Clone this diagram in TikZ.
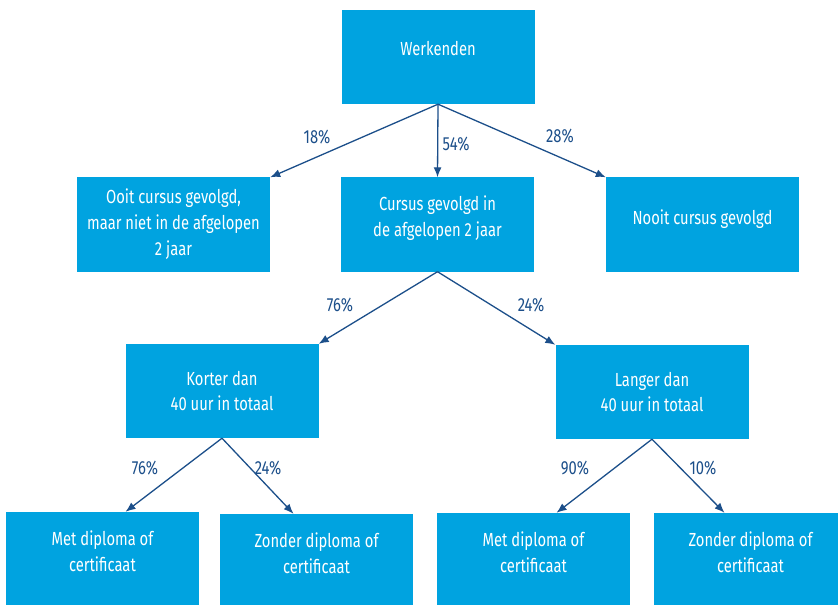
\documentclass[tikz,border=0pt]{standalone}
\usepackage{fontspec}
\setmainfont[FakeStretch=0.78]{Fira Sans}
\usetikzlibrary{positioning,calc,arrows.meta}
\definecolor{boxcolor}{HTML}{00A3E0}
\definecolor{arrowcolor}{HTML}{1C4F8A}

\begin{document}
\begin{tikzpicture}[
  x=1bp, y=-1bp,
  font=\fontsize{19}{26}\selectfont,
  >={Latex[length=10bp,width=8bp]},
  boxnode/.style={
    fill=boxcolor, text=white,
    minimum width=193bp, minimum height=94bp,
    align=center, inner sep=0pt,
  },
  lift/.style={text depth=#1},
  pctarrow/.style={->, line width=1.3bp, draw=arrowcolor},
  pctlabel/.style={text=arrowcolor, inner sep=0pt},
]
\useasboundingbox (0,0) rectangle (838,605);

% --- level 0 --------------------------------------------------------
\node[boxnode, lift=18bp] (W) at (438,57) {Werkenden};

% --- level 1 --------------------------------------------------------
\node[boxnode] (O) at (173.5,224.5) {Ooit cursus gevolgd,\\maar niet in de afgelopen\\2 jaar};
\node[boxnode, lift=16bp] (C) at (437.5,224.5) {Cursus gevolgd in\\de afgelopen 2 jaar};
\node[boxnode, lift=14bp] (N) at (702.5,224.5) {Nooit cursus gevolgd};

\draw[pctarrow] (W.south) -- (O.north east);
\draw[pctarrow] (W.south) -- (C.north);
\draw[pctarrow] (W.south) -- (N.north west);
\node[pctlabel] (pO) at (317,137) {18\%};
\node[pctlabel] (pC) at (456,144) {54\%};
\node[pctlabel] (pN) at (560,136) {28\%};

% --- level 2 --------------------------------------------------------
\node[boxnode] (K) at (222,391) {Korter dan\\40 uur in totaal};
\node[boxnode] (L) at (652,392) {Langer dan\\40 uur in totaal};

\draw[pctarrow] (C.south) -- (K.north east);
\draw[pctarrow] (C.south) -- (L.north west);
\node[pctlabel] (pK) at (340,305) {76\%};
\node[pctlabel] (pL) at (531,305) {24\%};

% --- level 3 --------------------------------------------------------
\node[boxnode, lift=16bp] (KM) at (102.5,559) {Met diploma of\\certificaat};
\node[boxnode, lift=16bp] (KZ) at (316.5,561) {Zonder diploma of\\certificaat};
\node[boxnode, lift=16bp] (LM) at (533.5,560) {Met diploma of\\certificaat};
\node[boxnode, lift=16bp] (LZ) at (750.5,560) {Zonder diploma of\\certificaat};

\draw[pctarrow] (K.south) -- ([xshift=23bp]KM.north);
\draw[pctarrow] (K.south) -- ([xshift=-23bp]KZ.north);
\draw[pctarrow] (L.south) -- ([xshift=23bp]LM.north);
\draw[pctarrow] (L.south) -- ([xshift=-26bp]LZ.north);
\node[pctlabel] (pKM) at (145,468) {76\%};
\node[pctlabel] (pKZ) at (268,468) {24\%};
\node[pctlabel] (pLM) at (575,468) {90\%};
\node[pctlabel] (pLZ) at (703,468) {10\%};

\end{tikzpicture}
\end{document}
